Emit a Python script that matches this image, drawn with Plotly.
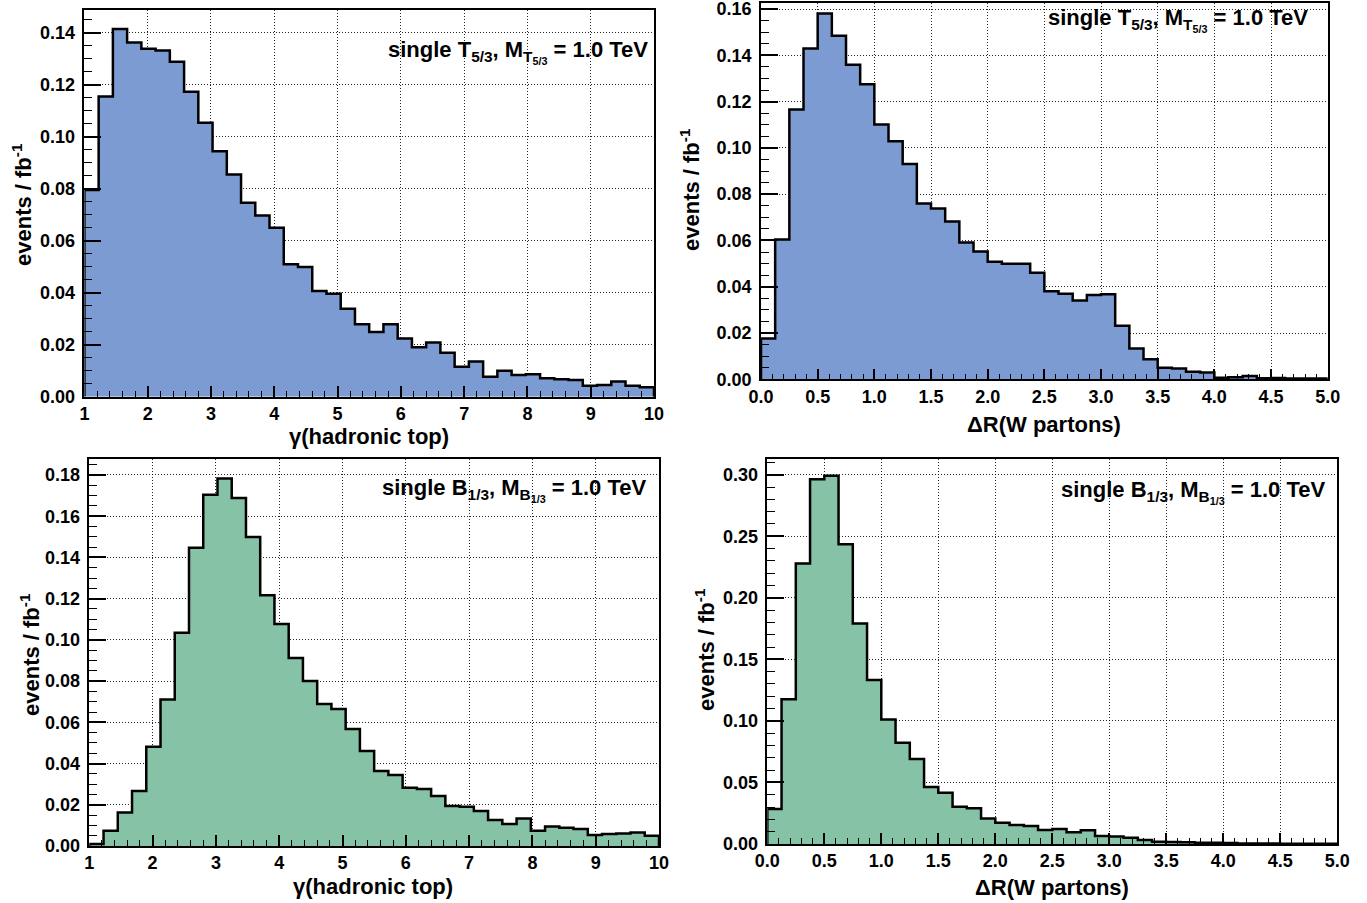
import numpy as np
import plotly.graph_objects as go

# ---------------- data ----------------
gamma_range = [1.0, 10.0]
dr_range = [0.0, 5.0]
n_bins = 40

t53_gamma = [0.0795, 0.1154, 0.1414, 0.1362, 0.1338, 0.1331, 0.1288, 0.1173, 0.1053, 0.0944,
             0.0854, 0.0746, 0.0697, 0.0650, 0.0509, 0.0499, 0.0406, 0.0396, 0.0338, 0.0279,
             0.0249, 0.0279, 0.0224, 0.0190, 0.0208, 0.0169, 0.0115, 0.0135, 0.0077, 0.0100,
             0.0083, 0.0086, 0.0071, 0.0067, 0.0064, 0.0042, 0.0045, 0.0058, 0.0042, 0.0036]

t53_dr = [0.0176, 0.0604, 0.1166, 0.1429, 0.1581, 0.1485, 0.1359, 0.1275, 0.1101, 0.1029,
          0.0930, 0.0760, 0.0738, 0.0682, 0.0591, 0.0552, 0.0508, 0.0499, 0.0499, 0.0460,
          0.0380, 0.0370, 0.0341, 0.0364, 0.0367, 0.0231, 0.0133, 0.0087, 0.0050, 0.0047,
          0.0033, 0.0029, 0.0007, 0.0009, 0.0014, 0.0004, 0.0006, 0.0003, 0.0003, 0.0003]

b13_gamma = [0.0010, 0.0074, 0.0162, 0.0267, 0.0482, 0.0711, 0.1035, 0.1447, 0.1704, 0.1783,
             0.1688, 0.1499, 0.1217, 0.1077, 0.0912, 0.0800, 0.0689, 0.0665, 0.0568, 0.0461,
             0.0364, 0.0344, 0.0283, 0.0276, 0.0243, 0.0194, 0.0191, 0.0170, 0.0126, 0.0107,
             0.0133, 0.0074, 0.0094, 0.0089, 0.0082, 0.0053, 0.0058, 0.0061, 0.0066, 0.0050]

b13_dr = [0.0284, 0.1175, 0.2279, 0.2962, 0.2991, 0.2434, 0.1792, 0.1332, 0.1012, 0.0823,
          0.0690, 0.0463, 0.0417, 0.0303, 0.0290, 0.0208, 0.0173, 0.0154, 0.0146, 0.0114,
          0.0122, 0.0095, 0.0111, 0.0065, 0.0060, 0.0051, 0.0032, 0.0019, 0.0016, 0.0014,
          0.0011, 0.0011, 0.0008, 0.0005, 0.0005, 0.0004, 0.0003, 0.0003, 0.0002, 0.0002]

labels = [
    "single T<sub>5/3</sub>, M<sub>T<sub>5/3</sub></sub> = 1.0 TeV",
    "single T<sub>5/3</sub>, M<sub>T<sub>5/3</sub></sub> = 1.0 TeV",
    "single B<sub>1/3</sub>, M<sub>B<sub>1/3</sub></sub> = 1.0 TeV",
    "single B<sub>1/3</sub>, M<sub>B<sub>1/3</sub></sub> = 1.0 TeV",
]
xtitle_gamma = "γ(hadronic top)"
xtitle_dr = "ΔR(W partons)"
ytitle = "events / fb<sup>-1</sup>"

BLUE = "rgb(124,155,210)"
GREEN = "rgb(134,195,166)"
FONT = "Liberation Sans"

W, H = 1367, 903

def px_x(p):
    return p / W

def px_y(p):
    return 1 - p / H

panels = [
    dict(vals=t53_gamma, rng=gamma_range, color=BLUE, xd=(84.4, 654.0), yd=(10.0, 396.7), ytop=0.1487,
         xdt=1, xmn=0.2, ydt=0.02, ymn=0.005, xfmt="d", lab=(650, 52), xt=xtitle_gamma, ytp=(22, 205), xtp=(369, 436)),
    dict(vals=t53_dr, rng=dr_range, color=BLUE, xd=(761.0, 1327.7), yd=(3.0, 379.3), ytop=0.1626,
         xdt=0.5, xmn=0.1, ydt=0.02, ymn=0.005, xfmt=".1f", lab=(1310, 20), xt=xtitle_dr, ytp=(690, 190), xtp=(1044, 424)),
    dict(vals=b13_gamma, rng=gamma_range, color=GREEN, xd=(89.3, 659.0), yd=(459.3, 846.0), ytop=0.1876,
         xdt=1, xmn=0.2, ydt=0.02, ymn=0.005, xfmt="d", lab=(648, 490), xt=xtitle_gamma, ytp=(30, 655), xtp=(373, 886)),
    dict(vals=b13_dr, rng=dr_range, color=GREEN, xd=(767.3, 1337.3), yd=(459.3, 844.0), ytop=0.3125,
         xdt=0.5, xmn=0.1, ydt=0.05, ymn=0.01, xfmt=".1f", lab=(1327, 492), xt=xtitle_dr, ytp=(705, 650), xtp=(1052, 887)),
]

fig = go.Figure()
annotations = []
layout_axes = {}

for i, p in enumerate(panels, start=1):
    edges = np.linspace(p["rng"][0], p["rng"][1], n_bins + 1)
    vals = list(p["vals"])
    xs = [edges[0]] + list(edges[:-1]) + [edges[-1]]
    ys = [0.0] + vals + [0.0]
    xa = "x" if i == 1 else f"x{i}"
    ya = "y" if i == 1 else f"y{i}"
    fig.add_trace(go.Scatter(
        x=xs, y=ys, mode="lines", line=dict(shape="hv", color="black", width=2.5),
        fill="tozeroy", fillcolor=p["color"], xaxis=xa, yaxis=ya, showlegend=False,
        hoverinfo="skip"))

    xkey = "xaxis" if i == 1 else f"xaxis{i}"
    ykey = "yaxis" if i == 1 else f"yaxis{i}"
    common = dict(showline=True, linecolor="black", linewidth=1.5, mirror=True,
                  ticks="inside", tickcolor="black", tickwidth=1.5, automargin=False,
                  ticklabeloverflow="allow",
                  showgrid=True, gridcolor="rgba(0,0,0,0.85)", gridwidth=1, griddash="1px,2px",
                  zeroline=False, tickfont=dict(family=FONT, size=18, color="black", weight="bold"))
    layout_axes[xkey] = dict(
        common, domain=[px_x(p["xd"][0]), px_x(p["xd"][1])], anchor=ya,
        range=p["rng"], tick0=p["rng"][0], dtick=p["xdt"], ticklen=11,
        tickformat=p["xfmt"],
        minor=dict(ticks="inside", ticklen=6, dtick=p["xmn"], tick0=p["rng"][0],
                   tickcolor="black", tickwidth=1.2, showgrid=False))
    layout_axes[ykey] = dict(
        common, domain=[px_y(p["yd"][1]), px_y(p["yd"][0])], anchor=xa,
        range=[0, p["ytop"]], tick0=0, dtick=p["ydt"], ticklen=17, tickformat=".2f",
        ticklabelstandoff=4,
        minor=dict(ticks="inside", ticklen=8, dtick=p["ymn"], tick0=0,
                   tickcolor="black", tickwidth=1.2, showgrid=False))

    annotations.append(dict(
        text=labels[i - 1], xref="paper", yref="paper", x=px_x(p["lab"][0]), y=px_y(p["lab"][1]),
        xanchor="right", yanchor="middle", showarrow=False,
        font=dict(family=FONT, size=22, color="black", weight="bold")))
    annotations.append(dict(
        text=p["xt"], xref="paper", yref="paper", x=px_x(p["xtp"][0]), y=px_y(p["xtp"][1]),
        xanchor="center", yanchor="middle", showarrow=False,
        font=dict(family=FONT, size=22, color="black", weight="bold")))
    annotations.append(dict(
        text=ytitle, xref="paper", yref="paper", x=px_x(p["ytp"][0]), y=px_y(p["ytp"][1]),
        xanchor="center", yanchor="middle", showarrow=False, textangle=-90,
        font=dict(family=FONT, size=22, color="black", weight="bold")))

fig.update_layout(
    width=W, height=H, margin=dict(l=0, r=0, t=0, b=0, pad=0, autoexpand=False),
    paper_bgcolor="white", plot_bgcolor="white",
    annotations=annotations, showlegend=False, **layout_axes)

fig.write_html("out.html")
